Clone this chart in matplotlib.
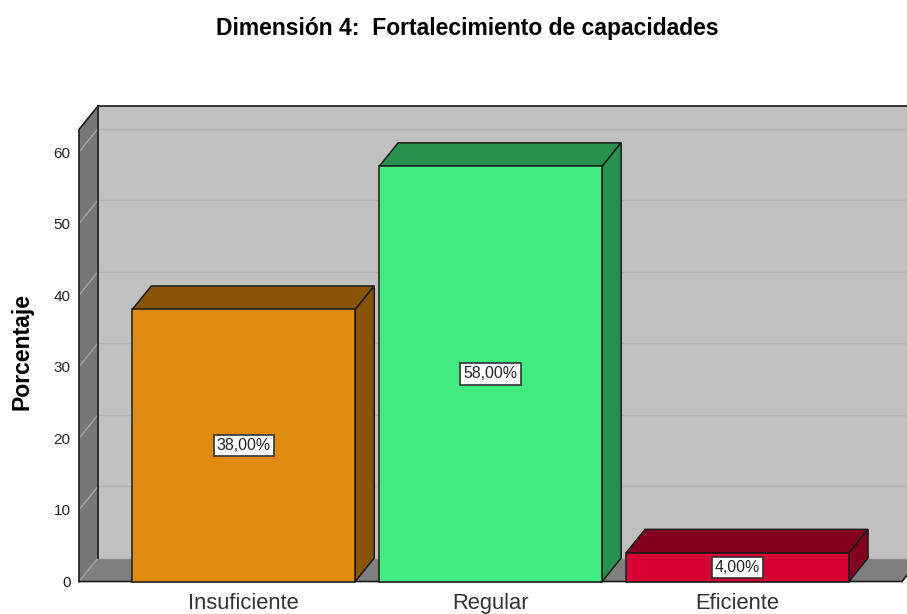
#!/usr/bin/env python3
# coding: utf-8

import matplotlib
matplotlib.use("Agg")
import matplotlib.pyplot as plt

plt.rcParams['font.family'] = ['Liberation Sans', 'DejaVu Sans']

categories = ["Insuficiente", "Regular", "Eficiente"]
values = [38, 58, 4]
value_labels = ["38,00%", "58,00%", "4,00%"]
y_ticks = [0, 10, 20, 30, 40, 50, 60]

front_colors = ["#E08A0E", "#41EC80", "#D60032"]
side_colors = ["#8A5408", "#27914F", "#83001F"]

W, H = 907, 614
left, bottom = 79, H - 581.5
right, top = 907, H - 106

fig = plt.figure(figsize=(W / 100, H / 100), dpi=100)
ax = fig.add_axes([left / W, bottom / H, (right - left) / W, (top - bottom) / H])

# escala: 246.9 px por categoria, 7.158 px por punto de porcentaje
x_min = -(243.75 - 79) / 246.9
x_max = x_min + (right - left) / 246.9
y_max = (top - bottom) / 7.158
ax.set_xlim(x_min, x_max)
ax.set_ylim(0, y_max)

dx = 19 / 246.9
dy = 23.5 / 7.158
y_top = y_max - dy
x_end = x_min + (902 - 79) / 246.9
bar_w = 223 / 246.9
edge = "#1a1a1a"

for s in ax.spines.values():
    s.set_visible(False)

# paredes y piso
ax.fill([x_min + dx, x_end + dx, x_end + dx, x_min + dx], [dy, dy, y_max, y_max],
        color="#C0C0C0", lw=0, clip_on=False, zorder=1)
ax.fill([x_min, x_min + dx, x_min + dx, x_min], [0, dy, y_max, y_top],
        color="#777777", lw=0, clip_on=False, zorder=1)
ax.fill([x_min, x_end, x_end + dx, x_min + dx], [0, 0, dy, dy],
        color="#7F7F7F", lw=0, clip_on=False, zorder=1)

# lineas de cuadricula
for t in y_ticks:
    ax.plot([x_min + dx, x_end + dx], [t + dy, t + dy], color="#B3B3B3", lw=1.0, zorder=2, clip_on=False)
    ax.plot([x_min, x_min + dx], [t, t + dy], color="#A8A8A8", lw=0.9, zorder=2, clip_on=False)

# bordes
ax.plot([x_min + dx, x_min + dx], [dy, y_max], color=edge, lw=1.2, zorder=3, clip_on=False)
ax.plot([x_min + dx, x_max + dx], [y_max, y_max], color=edge, lw=1.2, zorder=3, clip_on=False)
ax.plot([x_min, x_min, x_min + dx], [0, y_top, y_max], color=edge, lw=1.2, zorder=3, clip_on=False)
ax.plot([x_min, x_end, x_end + dx], [0, 0, dy], color=edge, lw=1.2, zorder=3, clip_on=False)

# barras
for i, v in enumerate(values):
    x0 = i - bar_w / 2
    x1 = i + bar_w / 2
    ax.fill([x0, x1, x1 + dx, x0 + dx], [v, v, v + dy, v + dy], facecolor=side_colors[i],
            edgecolor=edge, lw=1.1, zorder=4, clip_on=False)
    ax.fill([x1, x1 + dx, x1 + dx, x1], [0, dy, v + dy, v], facecolor=side_colors[i],
            edgecolor=edge, lw=1.1, zorder=4, clip_on=False)
    ax.bar(i, v, width=bar_w, color=front_colors[i], edgecolor=edge, lw=1.1, zorder=5, clip_on=False)
    ax.text(i, v / 2, value_labels[i], ha="center", va="center", fontsize=11.4, color="#222222", zorder=6,
            bbox=dict(boxstyle="square,pad=0.2", facecolor="white", edgecolor="#333333", lw=1.2))

ax.set_yticks(y_ticks)
ax.set_xticks(range(len(categories)))
ax.set_xticklabels(categories, fontsize=15.8, color="#333333")
ax.tick_params(axis="x", length=0, pad=8)
ax.tick_params(axis="y", length=0, pad=6.2, labelsize=11, labelcolor="#222222")

fig.text(22 / W, 1 - 352 / H, "Porcentaje", rotation=90, ha="center", va="center",
         fontsize=16.6, fontweight="bold", color="black")
fig.text(467 / W, 1 - 28 / H, "Dimensión 4:  Fortalecimiento de capacidades", ha="center", va="center",
         fontsize=16.5, fontweight="bold", color="black")

fig.savefig("out.png", dpi=100)
